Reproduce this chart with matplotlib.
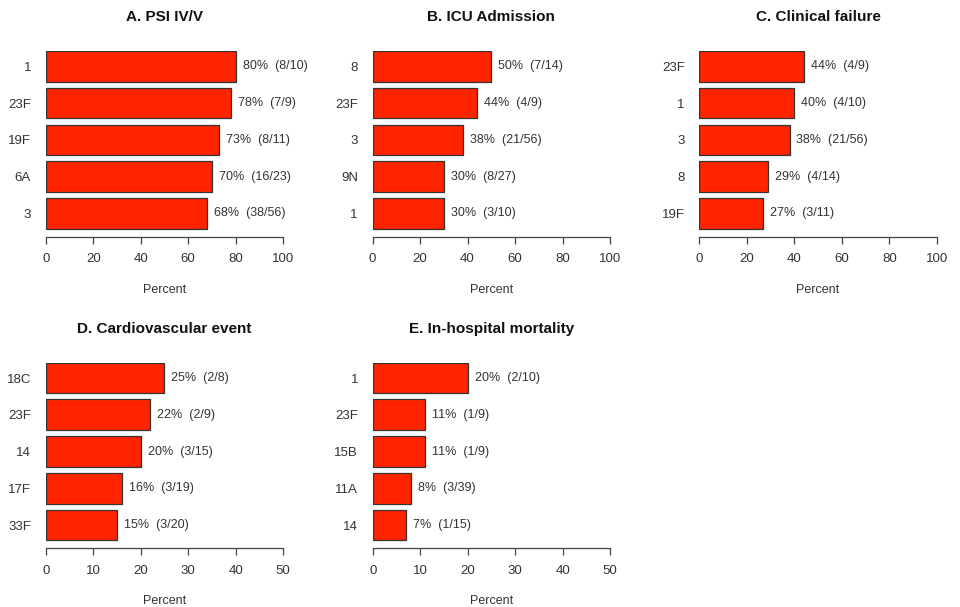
import matplotlib
matplotlib.use("Agg")
import matplotlib.pyplot as plt

plt.rcParams['font.family'] = ['Liberation Sans', 'DejaVu Sans']

# serotype rows, listed top to bottom for each outcome
titles = ["A. PSI IV/V", "B. ICU Admission", "C. Clinical failure",
          "D. Cardiovascular event", "E. In-hospital mortality"]

a_types = ["1", "23F", "19F", "6A", "3"]
a_pct = [80, 78, 73, 70, 68]
a_frac = ["8/10", "7/9", "8/11", "16/23", "38/56"]

b_types = ["8", "23F", "3", "9N", "1"]
b_pct = [50, 44, 38, 30, 30]
b_frac = ["7/14", "4/9", "21/56", "8/27", "3/10"]

c_types = ["23F", "1", "3", "8", "19F"]
c_pct = [44, 40, 38, 29, 27]
c_frac = ["4/9", "4/10", "21/56", "4/14", "3/11"]

d_types = ["18C", "23F", "14", "17F", "33F"]
d_pct = [25, 22, 20, 16, 15]
d_frac = ["2/8", "2/9", "3/15", "3/19", "3/20"]

e_types = ["1", "23F", "15B", "11A", "14"]
e_pct = [20, 11, 11, 8, 7]
e_frac = ["2/10", "1/9", "1/9", "3/39", "1/15"]

x_max = [100, 100, 100, 50, 50]

panels = [
    (a_types, a_pct, a_frac),
    (b_types, b_pct, b_frac),
    (c_types, c_pct, c_frac),
    (d_types, d_pct, d_frac),
    (e_types, e_pct, e_frac),
]

W, H = 960, 607
fig = plt.figure(figsize=(W / 100, H / 100), dpi=100)

# left edge (px) of each panel's zero, and top / axis-line rows (px)
lefts = [45.7, 372.5, 699.3, 45.7, 372.7]
span = 237.5
tops = [51, 51, 51, 362.7, 362.7]
axis_h = 185.7

bar_col = "#ff2400"
txt_col = "#333333"
ax_col = "#444444"
fs = 9.5

for i, ((types, pct, frac), title) in enumerate(zip(panels, titles)):
    left = lefts[i] / W
    bottom = 1 - (tops[i] + axis_h) / H
    ax = fig.add_axes([left, bottom, span / W, axis_h / H])

    n = len(types)
    ypos = [n - 1 - k for k in range(n)]
    ax.barh(ypos, pct, height=0.833, color=bar_col, edgecolor="#333333",
            linewidth=0.9)
    for y, p, f in zip(ypos, pct, frac):
        ax.annotate(f"{p}%  ({f})", (p, y), xytext=(5, 0),
                    textcoords="offset points", va="center", ha="left",
                    fontsize=9, color=txt_col, annotation_clip=False)

    ax.set_xlim(0, x_max[i])
    ax.set_ylim(-0.634, n - 1 + 0.417)
    step = x_max[i] // 5
    ax.set_xticks(range(0, x_max[i] + 1, step))
    ax.set_yticks(ypos)
    ax.set_yticklabels(types)

    for s in ["top", "right", "left"]:
        ax.spines[s].set_visible(False)
    ax.spines["bottom"].set_color(ax_col)
    ax.spines["bottom"].set_linewidth(0.9)
    ax.tick_params(axis="x", length=4.8, width=0.9, color=ax_col, pad=7,
                   labelsize=fs, labelcolor=txt_col)
    ax.tick_params(axis="y", length=0, pad=10.5, labelsize=fs,
                   labelcolor=txt_col)

    ax.text(0.5, -47 / axis_h, "Percent", transform=ax.transAxes,
            ha="center", va="top", fontsize=9, color=txt_col)
    ax.text(0.5, 1 + 34 / axis_h, title, transform=ax.transAxes,
            ha="center", va="center", fontsize=11, fontweight="bold",
            color="#111111")

fig.savefig("out.png", dpi=100, facecolor="white")
